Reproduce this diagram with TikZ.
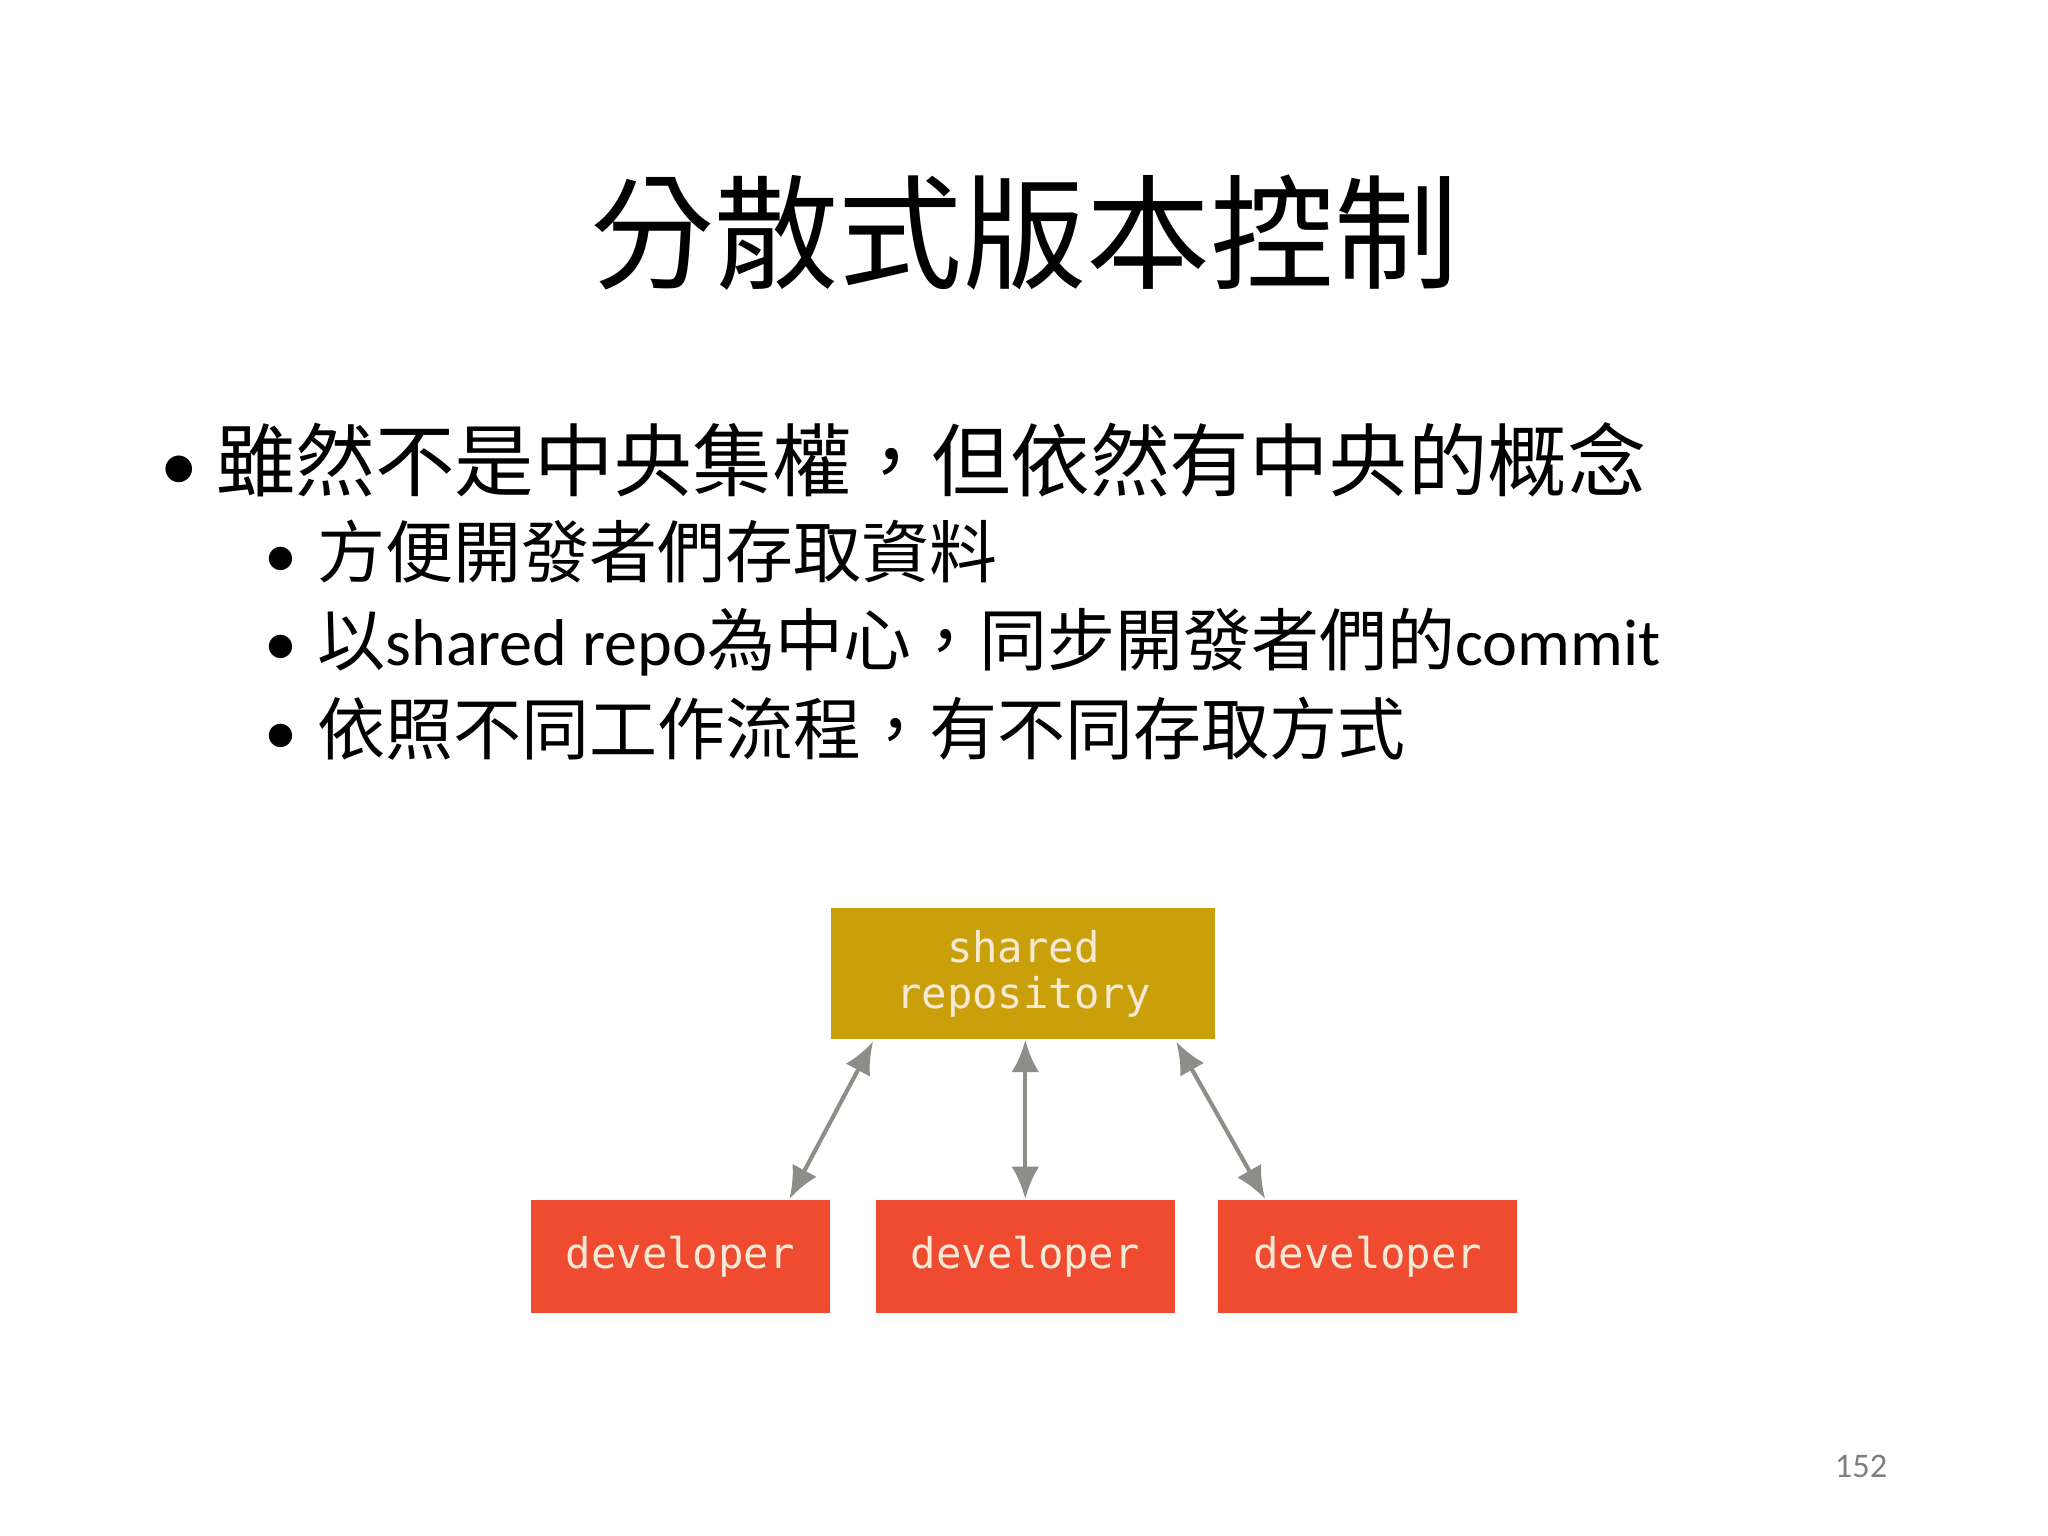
\documentclass[tikz,border=0pt]{standalone}
\usepackage{fontspec}
\newfontfamily\cjk{Noto Sans CJK TC}
\newfontfamily\lat{Carlito}
\newfontfamily\mono{DejaVu Sans Mono}
\usetikzlibrary{arrows.meta}
\definecolor{gold}{HTML}{C9A00A}
\definecolor{devred}{HTML}{EE4B30}
\definecolor{boxtxt}{HTML}{F6E9D6}
\definecolor{arr}{HTML}{8E8E88}
\tikzset{
 repo/.style={fill=gold,minimum width=2.94cm,minimum height=1.0cm,inner sep=0pt,text=boxtxt,font=\mono\fontsize{9.2}{11}\selectfont,align=center},
 dev/.style={fill=devred,minimum width=2.29cm,minimum height=0.87cm,inner sep=0pt,text=boxtxt,font=\mono\fontsize{9.2}{11}\selectfont},
 link/.style={draw=arr,line width=0.9pt,{Latex[length=7pt,width=6pt]}-{Latex[length=7pt,width=6pt]}},
 txt/.style={anchor=base west,inner sep=0pt}
}
\begin{document}
\begin{tikzpicture}
\useasboundingbox (0,0) rectangle (15.67,-11.75);
\fill[white] (0,0) rectangle (15.67,-11.75);
\node[inner sep=0pt] (title) at (7.84,-1.78) {\cjk\fontsize{27}{30}\selectfont 分散式版本控制};
\node[txt] (b1) at (1.22,-3.75) {\lat\fontsize{16.4}{20}\selectfont •\hspace{0.14cm}{\cjk\fontsize{17.3}{20}\selectfont 雖然不是中央集權，但依然有中央的概念}};
\node[txt] (b2) at (2.02,-4.42) {\lat\fontsize{14.4}{18}\selectfont •\hspace{0.15cm}{\cjk\fontsize{14.8}{18}\selectfont 方便開發者們存取資料}};
\node[txt] (b3) at (2.02,-5.09) {\lat\fontsize{14.4}{18}\selectfont •\hspace{0.15cm}{\cjk\fontsize{14.8}{18}\selectfont 以{\lat\fontsize{14.4}{18}\selectfont shared repo}為中心，同步開發者們的{\lat\fontsize{14.4}{18}\selectfont commit}}};
\node[txt] (b4) at (2.02,-5.77) {\lat\fontsize{14.4}{18}\selectfont •\hspace{0.15cm}{\cjk\fontsize{14.8}{18}\selectfont 依照不同工作流程，有不同存取方式}};
\node[repo] (repo) at (7.83,-7.45) {shared\\[-1pt]repository};
\node[dev] (d1) at (5.205,-9.615) {developer};
\node[dev] (d2) at (7.845,-9.615) {developer};
\node[dev] (d3) at (10.465,-9.615) {developer};
\coordinate (r1) at (6.68,-7.97);
\coordinate (r3) at (9.0,-7.97);
\draw[link] (r1) -- (d1.north -| 6.04,0);
\draw[link] (repo.south -| d2) -- (d2.north);
\draw[link] (r3) -- (d3.north -| 9.68,0);
\node[text=gray,font=\lat\fontsize{7.5}{9}\selectfont] (pg) at (14.24,-11.22) {152};
\end{tikzpicture}
\end{document}
